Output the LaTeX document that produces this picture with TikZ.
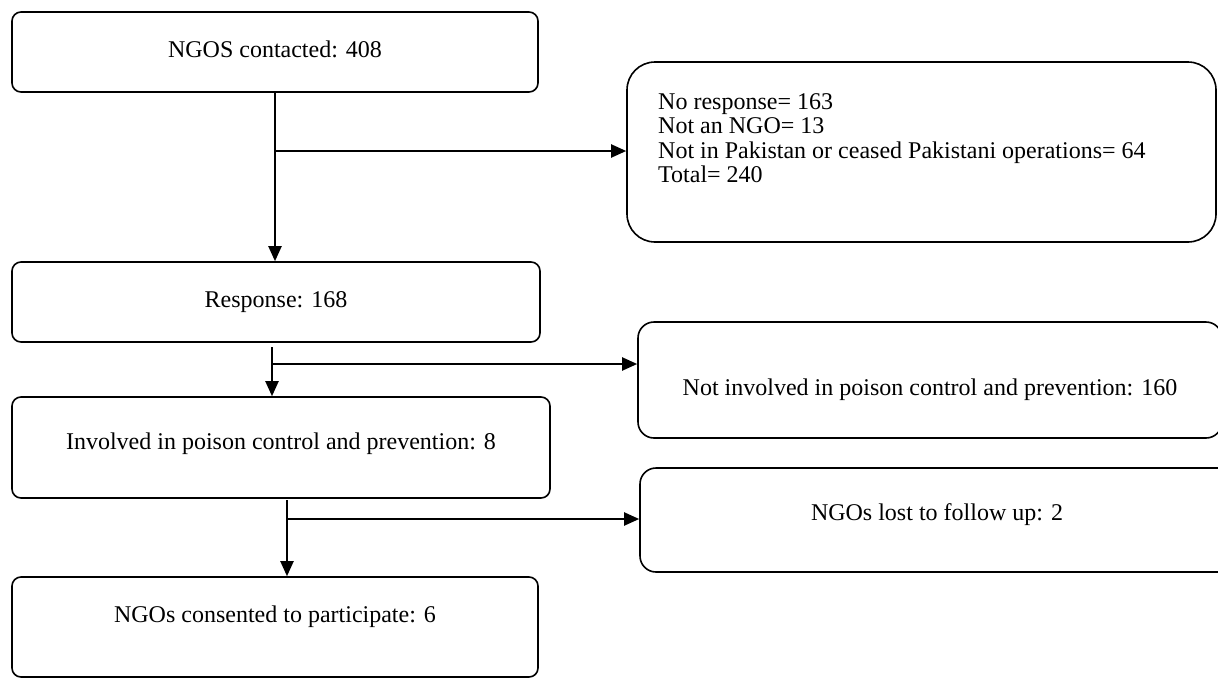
\documentclass[tikz,border=0pt]{standalone}
\usepackage{fontspec}
\setmainfont{Liberation Serif}
\usetikzlibrary{arrows.meta}
\begin{document}
\begin{tikzpicture}[x=1pt,y=-1pt,
  box/.style={draw=black,line width=1.6pt,rounded corners=9pt,inner sep=0pt,font=\fontsize{24}{27}\selectfont},
  bigbox/.style={box,rounded corners=28pt},
  midbox/.style={box,rounded corners=16pt},
  arr/.style={line width=2pt,-{Triangle[length=15pt,width=13pt]}},
  ln/.style={line width=2pt}]
\useasboundingbox (0,0) rectangle (1218,678);
\node[box,minimum width=526pt,minimum height=80pt,text height=16pt,text depth=6pt] (b1) at (275,52) {NGOS contacted: 408};
\node[bigbox,minimum width=589pt,minimum height=180pt] (b2) at (921.5,152) {};
\node[anchor=north west,align=left,inner sep=0pt,font=\fontsize{24}{24.5}\selectfont] (b2t) at (658,93) {No response= 163\\Not an NGO= 13\\Not in Pakistan or ceased Pakistani operations= 64\\Total= 240};
\node[box,minimum width=528pt,minimum height=80pt] (b3) at (276,302) {Response: 168};
\node[midbox,minimum width=584pt,minimum height=116pt,text height=30pt,text depth=0pt] (b4) at (930,380) {Not involved in poison control and prevention: 160};
\node[box,minimum width=538pt,minimum height=101pt,text height=16pt,text depth=13pt] (b5) at (281,447.5) {Involved in poison control and prevention: 8};
\node[midbox,minimum width=594pt,minimum height=104pt,text height=10pt,text depth=10pt] (b6) at (937,520) {NGOs lost to follow up: 2};
\node[box,minimum width=526pt,minimum height=100pt,text height=16pt,text depth=26pt] (b7) at (275,627) {NGOs consented to participate: 6};
% connectors
\coordinate (j1) at (275,151);
\draw[arr] (b1.south -| j1) -- (b3.north -| j1);
\draw[arr] (j1) -- (j1 -| b2.west);
\coordinate (s2) at (272,347);
\coordinate (j2) at (272,364);
\draw[arr] (s2) -- (s2 |- b5.north);
\draw[arr] (j2) -- (j2 -| b4.west);
\coordinate (s3) at (287,500);
\coordinate (j3) at (287,519);
\draw[arr] (s3) -- (s3 |- b7.north);
\draw[arr] (j3) -- (j3 -| b6.west);
\end{tikzpicture}
\end{document}
